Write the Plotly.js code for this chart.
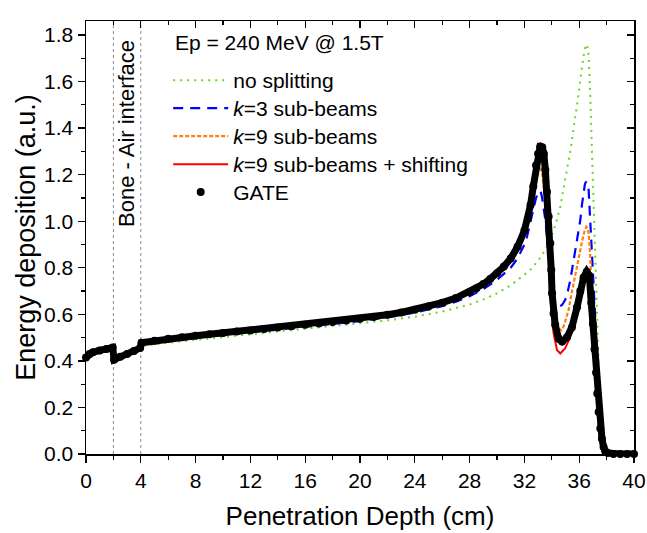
<!DOCTYPE html>
<html><head><meta charset="utf-8">
<script src="https://cdn.plot.ly/plotly-3.0.1.min.js"></script>
<style>html,body{margin:0;padding:0;background:#fff}#chart{width:647px;height:533px}</style>
</head><body><div id="chart"></div>
<script>
// ---- data ----
const seriesNames = ["no splitting", "<i>k</i>=3 sub-beams", "<i>k</i>=9 sub-beams", "<i>k</i>=9 sub-beams + shifting", "GATE"];
const interfaces = [2, 4];
const chartTitle = "Ep = 240 MeV @ 1.5T";
const interfaceLabel = "Bone - Air interface";

const greenX = [0,0.5,1,1.5,2,2,2.5,3,3.5,4,4,6,8,10,12,14,16,18,20,22,24,26,28,29,30,31,32,32.5,33,33.5,34,34.3,34.62,34.85,35.1,35.35,35.59,35.78,35.96,36.08,36.2,36.32,36.45,36.57,36.69,36.75,36.81,36.87,36.93,36.99,37.05,37.12,37.18,37.23,37.29,37.34,37.4,37.47,37.53,37.59,37.68,37.78,37.9,38.03,38.2,40];
const greenY = [0.405,0.425,0.433,0.439,0.445,0.398,0.408,0.418,0.43,0.442,0.462,0.478,0.49,0.501,0.512,0.524,0.536,0.548,0.56,0.574,0.59,0.612,0.642,0.664,0.69,0.725,0.77,0.795,0.83,0.875,0.94,0.99,1.062,1.13,1.22,1.3,1.392,1.47,1.549,1.61,1.664,1.71,1.75,1.76,1.71,1.64,1.535,1.42,1.306,1.18,1.062,0.9,0.78,0.676,0.55,0.432,0.33,0.246,0.17,0.117,0.06,0.031,0.012,0.005,0,0];

const blueX = [0,0.5,1,1.5,2,2,2.5,3,3.5,4,4,6,8,10,12,14,16,18,20,22,24,26,27,28,29,30,31,31.5,32,32.19,32.45,32.67,32.85,33.04,33.18,33.28,33.4,33.53,33.65,33.77,33.89,34.01,34.13,34.25,34.5,34.75,34.98,35.17,35.35,35.53,35.72,35.9,36.08,36.2,36.32,36.42,36.5,36.6,36.69,36.75,36.81,36.87,36.93,37.0,37.05,37.12,37.18,37.24,37.3,37.42,37.54,37.66,37.78,37.95,38.1,40];
const blueY = [0.41,0.43,0.438,0.444,0.45,0.4,0.412,0.423,0.435,0.447,0.47,0.486,0.499,0.511,0.522,0.534,0.546,0.558,0.571,0.587,0.607,0.635,0.654,0.678,0.708,0.748,0.8,0.84,0.9,0.933,1.0,1.062,1.1,1.125,1.13,1.105,1.06,1.005,0.935,0.862,0.79,0.719,0.675,0.647,0.633,0.64,0.662,0.7,0.747,0.81,0.876,0.94,1.005,1.07,1.134,1.16,1.17,1.16,1.134,1.07,0.976,0.9,0.833,0.78,0.72,0.64,0.576,0.47,0.361,0.2,0.09,0.045,0.02,0.006,0,0];

const orangeX = [0,0.5,1,1.5,2,2,2.5,3,3.5,4,4,6,8,10,12,14,16,18,20,22,24,26,27,28,29,30,31,31.5,32,32.43,32.67,32.85,33.04,33.15,33.28,33.4,33.53,33.65,33.77,33.89,34.01,34.13,34.25,34.5,34.7,34.86,35.05,35.23,35.41,35.59,35.78,35.96,36.12,36.28,36.4,36.52,36.62,36.69,36.75,36.81,36.9,36.98,37.05,37.12,37.2,37.3,37.38,37.47,37.56,37.66,37.78,37.9,38.1,40];
const orangeY = [0.41,0.432,0.44,0.446,0.452,0.402,0.414,0.425,0.437,0.449,0.472,0.489,0.502,0.514,0.525,0.537,0.549,0.561,0.575,0.591,0.612,0.642,0.662,0.688,0.72,0.765,0.828,0.875,0.94,1.03,1.12,1.19,1.227,1.235,1.21,1.16,1.09,1.01,0.933,0.83,0.733,0.66,0.604,0.54,0.532,0.547,0.58,0.619,0.68,0.733,0.79,0.848,0.89,0.933,0.96,0.976,0.97,0.947,0.9,0.833,0.74,0.647,0.57,0.49,0.4,0.304,0.24,0.175,0.12,0.074,0.04,0.017,0.003,0];

const redX = [0,0.5,1,1.5,2,2,2.5,3,3.5,4,4,5,6,8,10,12,14,16,18,20,22,24,26,27,28,29,30,31,31.5,32,32.5,32.75,32.92,33.05,33.16,33.26,33.36,33.48,33.6,33.72,33.84,33.96,34.13,34.38,34.62,34.98,35.35,35.72,36.08,36.37,36.57,36.77,36.88,37.05,37.18,37.3,37.42,37.59,37.78,38.03,38.5,40];
const redY = [0.415,0.437,0.445,0.451,0.457,0.405,0.418,0.43,0.442,0.455,0.478,0.487,0.495,0.508,0.52,0.531,0.543,0.555,0.567,0.581,0.598,0.62,0.65,0.67,0.696,0.73,0.776,0.84,0.89,0.96,1.08,1.17,1.263,1.31,1.337,1.33,1.29,1.19,1.062,0.919,0.776,0.633,0.518,0.447,0.432,0.454,0.504,0.59,0.69,0.762,0.79,0.762,0.676,0.533,0.418,0.304,0.189,0.088,0.031,0.005,0,0];

const gateX = [0,0.25,0.5,1,1.5,1.95,2.05,2.5,3,3.5,3.95,4.05,5,6,7,8,9,10,11,12,13,14,15,16,17,18,19,20,21,22,23,24,25,26,27,28,28.5,29,29.5,30,30.5,31,31.5,32,32.25,32.45,32.65,32.85,33.0,33.15,33.3,33.42,33.53,33.65,33.77,33.89,33.96,34.02,34.13,34.25,34.5,34.75,35.1,35.47,35.84,36.08,36.32,36.55,36.74,36.88,37.0,37.12,37.23,37.32,37.42,37.54,37.66,37.78,37.9,38.1,38.5,39,39.5,40];
const gateY = [0.415,0.43,0.437,0.445,0.451,0.457,0.405,0.418,0.43,0.442,0.455,0.478,0.487,0.495,0.502,0.508,0.514,0.52,0.526,0.531,0.537,0.543,0.549,0.555,0.561,0.567,0.574,0.581,0.589,0.598,0.608,0.62,0.634,0.65,0.67,0.696,0.712,0.73,0.752,0.776,0.805,0.84,0.89,0.96,1.01,1.07,1.15,1.24,1.29,1.32,1.318,1.29,1.22,1.127,1.02,0.905,0.79,0.69,0.604,0.554,0.495,0.483,0.5,0.545,0.63,0.7,0.758,0.783,0.765,0.65,0.56,0.45,0.35,0.26,0.18,0.11,0.065,0.03,0.012,0.004,0,0,0,0];

// ---- chart ----
const FONT = "Liberation Sans, Arial, sans-serif";
const big = s => '<span style="font-size:21px">' + s + '</span>';
const traces = [
  {x: greenX, y: greenY, name: big(seriesNames[0]), mode: "lines",
   line: {color: "#70d41c", width: 2, dash: "2px,5px"}},
  {x: blueX, y: blueY, name: big(seriesNames[1]), mode: "lines",
   line: {color: "#0000ff", width: 2.2, dash: "10px,7px"}},
  {x: orangeX, y: orangeY, name: big(seriesNames[2]), mode: "lines",
   line: {color: "#ff8010", width: 2.2, dash: "4px,2px"}},
  {x: redX, y: redY, name: big(seriesNames[3]), mode: "lines",
   line: {color: "#ff0000", width: 2}},
  {x: gateX, y: gateY, name: seriesNames[4], mode: "lines", showlegend: false,
   line: {color: "#000000", width: 7}},
  {x: gateX, y: gateY, name: big(seriesNames[4]), mode: "markers", cliponaxis: false,
   marker: {color: "#000000", size: 8}},
  {x: [], y: [], xaxis: "x2", yaxis: "y2", showlegend: false, hoverinfo: "skip"}
];

const axBase = {
  showline: true, linecolor: "#000", linewidth: 1.5, showgrid: false, zeroline: false,
  tickcolor: "#000", tickwidth: 1.3, tickfont: {family: FONT, size: 21, color: "#000"}
};

const shapes = interfaces.map(v => ({
  type: "line", xref: "x", yref: "paper", x0: v, x1: v, y0: 0, y1: 1,
  line: {color: "#8a8a8a", width: 1, dash: "dot"}, layer: "below"
}));

const layout = {
  width: 647, height: 533,
  margin: {l: 86, r: 13, t: 21, b: 79},
  paper_bgcolor: "#fff", plot_bgcolor: "#fff",
  font: {family: FONT, color: "#000"},
  showlegend: true,
  xaxis: Object.assign({}, axBase, {
    range: [0, 40], tick0: 0, dtick: 4, ticks: "outside", ticklen: 7,
    minor: {dtick: 2, ticks: "outside", ticklen: 4, tickcolor: "#000", tickwidth: 1.3},
    title: {text: "Penetration Depth (cm)", font: {family: FONT, size: 26, color: "#000"}, standoff: 16},
    automargin: false
  }),
  yaxis: Object.assign({}, axBase, {
    range: [0, 1.86], tick0: 0, dtick: 0.2, tickformat: ".1f", ticks: "outside", ticklen: 7,
    minor: {dtick: 0.1, ticks: "outside", ticklen: 4, tickcolor: "#000", tickwidth: 1.3},
    title: {text: "Energy deposition (a.u.)", font: {family: FONT, size: 27, color: "#000"}, standoff: 0},
    automargin: false
  }),
  xaxis2: Object.assign({}, axBase, {
    overlaying: "x", side: "top", anchor: "y2", range: [0, 40], tick0: 0, dtick: 4,
    ticks: "inside", ticklen: 7, showticklabels: false,
    minor: {dtick: 2, ticks: "inside", ticklen: 4, tickcolor: "#000", tickwidth: 1.3}
  }),
  yaxis2: Object.assign({}, axBase, {
    overlaying: "y", side: "right", anchor: "x2", range: [0, 1.86], tick0: 0, dtick: 0.2,
    ticks: "inside", ticklen: 7, showticklabels: false,
    minor: {dtick: 0.1, ticks: "inside", ticklen: 4, tickcolor: "#000", tickwidth: 1.3}
  }),
  legend: {
    x: 0.15, y: 0.907, xanchor: "left", yanchor: "top",
    bgcolor: "rgba(0,0,0,0)", borderwidth: 0,
    font: {family: FONT, size: 19.2, color: "#000"},
    itemwidth: 55, tracegroupgap: 0
  },
  shapes: shapes,
  annotations: [
    {text: chartTitle, xref: "paper", yref: "paper", x: 0.158, y: 0.95,
     xanchor: "left", yanchor: "middle", showarrow: false,
     font: {family: FONT, size: 21, color: "#000"}},
    {text: interfaceLabel, xref: "x", yref: "y", x: 3, y: 1.375, textangle: -90,
     xanchor: "center", yanchor: "middle", showarrow: false,
     font: {family: FONT, size: 22, color: "#000"}}
  ]
};

Plotly.newPlot("chart", traces, layout, {displayModeBar: false, staticPlot: true});
</script>
</body></html>
